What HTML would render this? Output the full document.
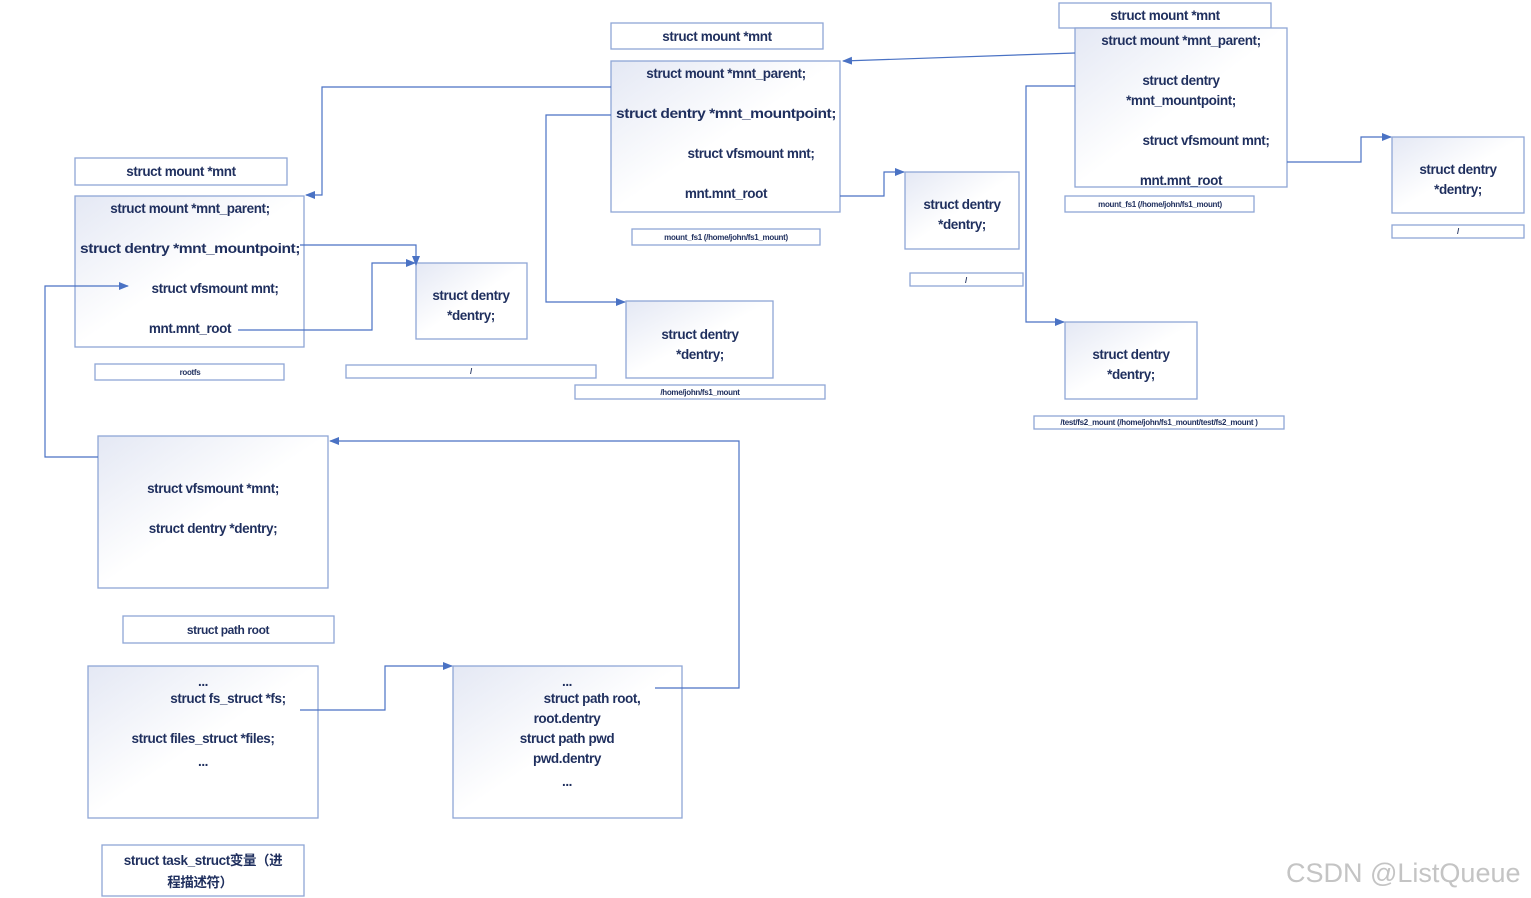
<!DOCTYPE html>
<html><head><meta charset="utf-8"><style>
html,body{margin:0;padding:0;background:#fff;}
svg{display:block}
text{font-family:"Liberation Sans","Noto Sans CJK SC",sans-serif;fill:#1f2f5e;font-weight:bold;font-size:13.5px;letter-spacing:-0.4px}
.s{font-size:8px;letter-spacing:-0.3px}
.b{fill:url(#g);stroke:#8ea6d6;stroke-width:1.3}
.l{fill:#fff;stroke:#8ea6d6;stroke-width:1.3}
.c{fill:none;stroke:#4a72c4;stroke-width:1.2}
</style></head><body>
<svg width="1531" height="898" viewBox="0 0 1531 898" xmlns="http://www.w3.org/2000/svg">
<defs>
<linearGradient id="g" x1="0" y1="0" x2="1" y2="1"><stop offset="0" stop-color="#e4e8f4"/><stop offset="0.5" stop-color="#ffffff"/><stop offset="1" stop-color="#ffffff"/></linearGradient>
<marker id="a" markerWidth="10" markerHeight="8" refX="9" refY="4" orient="auto" markerUnits="userSpaceOnUse"><path d="M0,0 L10,4 L0,8 z" fill="#4a72c4"/></marker>
</defs>
<g text-anchor="middle">
<!-- top middle -->
<rect class="l" x="611" y="23" width="212" height="26"/><text x="717" y="41">struct mount *mnt</text>
<rect class="b" x="611" y="61" width="229" height="151"/>
<text x="726" y="78">struct mount *mnt_parent;</text>
<text x="726" y="118" textLength="220" lengthAdjust="spacingAndGlyphs">struct dentry *mnt_mountpoint;</text>
<text x="751" y="158">struct vfsmount mnt;</text>
<text x="726" y="198">mnt.mnt_root</text>
<rect class="l" x="632" y="229" width="188" height="16"/><text class="s" x="726" y="240">mount_fs1 (/home/john/fs1_mount)</text>
<!-- top right -->
<rect class="l" x="1059" y="3" width="212" height="25"/><text x="1165" y="20">struct mount *mnt</text>
<rect class="b" x="1075" y="28" width="212" height="159"/>
<text x="1181" y="45">struct mount *mnt_parent;</text>
<text x="1181" y="85">struct dentry</text>
<text x="1181" y="105">*mnt_mountpoint;</text>
<text x="1206" y="145">struct vfsmount mnt;</text>
<text x="1181" y="185">mnt.mnt_root</text>
<rect class="l" x="1065" y="196" width="189" height="16"/><text class="s" x="1160" y="207">mount_fs1 (/home/john/fs1_mount)</text>
<rect class="b" x="1392" y="137" width="132" height="76"/><text x="1458" y="174">struct dentry</text><text x="1458" y="194">*dentry;</text>
<rect class="l" x="1392" y="225" width="132" height="13"/><text class="s" x="1458" y="234">/</text>
<rect class="b" x="905" y="172" width="114" height="77"/><text x="962" y="209">struct dentry</text><text x="962" y="229">*dentry;</text>
<rect class="l" x="910" y="273" width="113" height="13"/><text class="s" x="966" y="283">/</text>
<rect class="b" x="1065" y="322" width="132" height="77"/><text x="1131" y="359">struct dentry</text><text x="1131" y="379">*dentry;</text>
<rect class="l" x="1034" y="416" width="250" height="13"/><text class="s" x="1159" y="425">/test/fs2_mount (/home/john/fs1_mount/test/fs2_mount )</text>
<!-- left -->
<rect class="l" x="75" y="158" width="212" height="27"/><text x="181" y="176">struct mount *mnt</text>
<rect class="b" x="75" y="196" width="229" height="151"/>
<text x="190" y="213">struct mount *mnt_parent;</text>
<text x="190" y="253" textLength="220" lengthAdjust="spacingAndGlyphs">struct dentry *mnt_mountpoint;</text>
<text x="215" y="293">struct vfsmount mnt;</text>
<text x="190" y="333">mnt.mnt_root</text>
<rect class="l" x="95" y="364" width="189" height="16"/><text class="s" x="190" y="375">rootfs</text>
<rect class="b" x="416" y="263" width="111" height="76"/><text x="471" y="300">struct dentry</text><text x="471" y="320">*dentry;</text>
<rect class="l" x="346" y="365" width="250" height="13"/><text class="s" x="471" y="374">/</text>
<rect class="b" x="626" y="301" width="147" height="77"/><text x="700" y="339">struct dentry</text><text x="700" y="359">*dentry;</text>
<rect class="l" x="575" y="385" width="250" height="14"/><text class="s" x="700" y="395">/home/john/fs1_mount</text>
<!-- path -->
<rect class="b" x="98" y="436" width="230" height="152"/>
<text x="213" y="493">struct vfsmount *mnt;</text>
<text x="213" y="533">struct dentry *dentry;</text>
<rect class="l" x="123" y="616" width="211" height="27"/><text x="228" y="634" style="font-size:12px">struct path root</text>
<!-- task -->
<rect class="b" x="88" y="666" width="230" height="152"/>
<text x="203" y="686">...</text>
<text x="228" y="703">struct fs_struct *fs;</text>
<text x="203" y="743">struct files_struct *files;</text>
<text x="203" y="766">...</text>
<rect class="b" x="453" y="666" width="229" height="152"/>
<text x="567" y="686">...</text>
<text x="592" y="703">struct path root,</text>
<text x="567" y="723">root.dentry</text>
<text x="567" y="743">struct path  pwd</text>
<text x="567" y="763">pwd.dentry</text>
<text x="567" y="786">...</text>
<rect class="l" x="102" y="845" width="202" height="51"/>
<text x="203" y="865">struct task_struct变量（进</text>
<text x="200" y="887">程描述符）</text>
</g>
<!-- connectors -->
<path class="c" d="M1075,53 L843,61" marker-end="url(#a)"/>
<path class="c" d="M611,87 L322,87 L322,195 L306,195" marker-end="url(#a)"/>
<path class="c" d="M611,115 L546,115 L546,302 L625,302" marker-end="url(#a)"/>
<path class="c" d="M840,196 L884,196 L884,172 L904,172" marker-end="url(#a)"/>
<path class="c" d="M1075,86 L1026,86 L1026,322 L1064,322" marker-end="url(#a)"/>
<path class="c" d="M1287,162 L1361,162 L1361,137 L1391,137" marker-end="url(#a)"/>
<path class="c" d="M300,245 L416,245 L416,265" marker-end="url(#a)"/>
<path class="c" d="M238,330 L372,330 L372,263 L415,263" marker-end="url(#a)"/>
<path class="c" d="M98,457 L45,457 L45,286 L128,286" marker-end="url(#a)"/>
<path class="c" d="M300,710 L385,710 L385,666 L452,666" marker-end="url(#a)"/>
<path class="c" d="M655,688 L739,688 L739,441 L330,441" marker-end="url(#a)"/>
<text x="1286" y="882" style="font-size:27px;font-weight:normal;fill:#c4c4c4;letter-spacing:0">CSDN @ListQueue</text>
</svg>
</body></html>
